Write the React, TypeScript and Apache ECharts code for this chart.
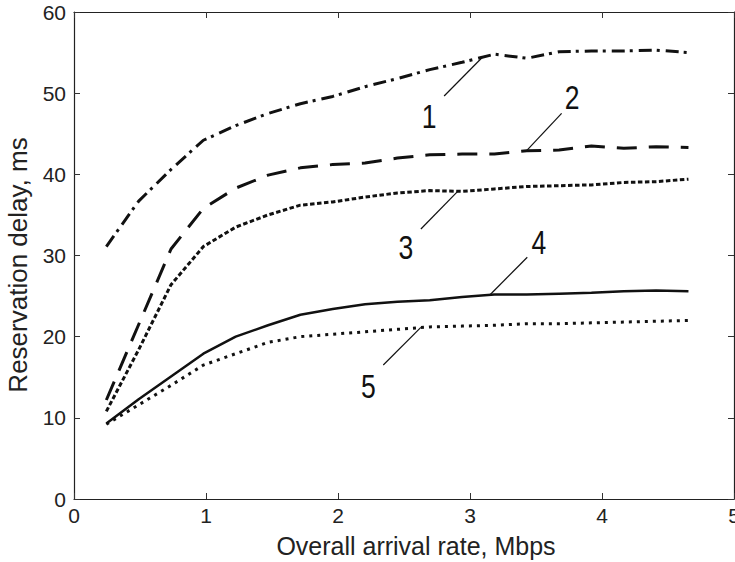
import React, { useEffect, useRef } from "react";
import * as echarts from "echarts";

// Overall arrival rate, Mbps (x positions of the samples)
const arrivalRate = [0.245, 0.49, 0.735, 0.98, 1.225, 1.47, 1.715, 1.96, 2.205, 2.45, 2.695, 2.94, 3.185, 3.43, 3.675, 3.92, 4.165, 4.41, 4.655];

// Reservation delay, ms
const curve1 = [31.1, 36.7, 40.6, 44.2, 46.0, 47.5, 48.7, 49.6, 50.8, 51.8, 52.9, 53.8, 54.8, 54.3, 55.1, 55.2, 55.2, 55.3, 55.0];
const curve2 = [12.2, 21.5, 30.8, 35.8, 38.3, 39.9, 40.8, 41.2, 41.4, 42.0, 42.4, 42.5, 42.5, 42.9, 43.0, 43.5, 43.2, 43.4, 43.3];
const curve3 = [10.8, 18.4, 26.4, 31.1, 33.5, 35.0, 36.2, 36.6, 37.2, 37.7, 38.0, 37.9, 38.2, 38.5, 38.6, 38.7, 39.0, 39.1, 39.4];
const curve4 = [9.3, 12.3, 15.1, 17.9, 20.0, 21.4, 22.7, 23.4, 24.0, 24.3, 24.5, 24.9, 25.2, 25.2, 25.3, 25.4, 25.6, 25.7, 25.6];
const curve5 = [9.2, 11.6, 14.0, 16.5, 17.9, 19.3, 20.0, 20.3, 20.6, 20.9, 21.2, 21.3, 21.4, 21.6, 21.6, 21.7, 21.8, 21.9, 22.0];

const curveNames = ["1", "2", "3", "4", "5"];

const xAxisMin = 0;
const xAxisMax = 5;
const xAxisInterval = 1;
const yAxisMin = 0;
const yAxisMax = 60;
const yAxisInterval = 10;

const xAxisTitle = "Overall arrival rate, Mbps";
const yAxisTitle = "Reservation delay, ms";

// curve callouts, in data coordinates: label centre, leader start, leader end
const labelAt = [[2.691, 47.2], [3.774, 49.6], [2.515, 31.1], [3.522, 31.7], [2.23, 14.0]];
const leaderFrom = [[2.804, 49.65], [3.694, 47.52], [2.628, 33.26], [3.434, 29.78], [2.343, 16.51]];
const leaderTo = [[3.094, 54.42], [3.422, 42.79], [2.905, 37.86], [3.15, 25.13], [2.628, 21.15]];

const FONT = "'Liberation Sans', Arial, Helvetica, sans-serif";
const INK = "#111";

const pairs = (ys: number[]) => ys.map((y, i) => [arrivalRate[i], y]);

export default function App() {
  const ref = useRef<HTMLDivElement>(null);

  useEffect(() => {
    if (!ref.current) return;
    const chart = echarts.init(ref.current, undefined, { renderer: "svg" });

    const axisLine = { show: true, onZero: false, lineStyle: { color: "#222", width: 1.2 } };
    const axisTick = { show: true, inside: true, length: 6, lineStyle: { color: "#333", width: 1 } };

    const lineSeries = (name: string, ys: number[], type: any, width: number) => ({
      name,
      type: "line",
      data: pairs(ys),
      xAxisIndex: 0,
      yAxisIndex: 0,
      showSymbol: false,
      symbol: "none",
      smooth: false,
      lineStyle: { color: INK, width, type, cap: "butt", join: "round" },
      z: 3,
    });

    chart.setOption({
      animation: false,
      backgroundColor: "#fff",
      grid: { left: 74, top: 12, right: 1, bottom: 63, containLabel: false, outerBoundsMode: "none" },
      xAxis: [
        {
          type: "value",
          position: "bottom",
          min: xAxisMin,
          max: xAxisMax,
          interval: xAxisInterval,
          axisLine,
          axisTick,
          splitLine: { show: false },
          axisLabel: { show: true, fontFamily: FONT, fontSize: 21, color: "#222", margin: 6, showMinLabel: true, showMaxLabel: true },
        },
        {
          type: "value",
          position: "top",
          min: xAxisMin,
          max: xAxisMax,
          interval: xAxisInterval,
          axisLine,
          axisTick,
          splitLine: { show: false },
          axisLabel: { show: false },
        },
      ],
      yAxis: [
        {
          type: "value",
          position: "left",
          min: yAxisMin,
          max: yAxisMax,
          interval: yAxisInterval,
          axisLine,
          axisTick,
          splitLine: { show: false },
          axisLabel: { show: true, fontFamily: FONT, fontSize: 21, color: "#222", margin: 8 },
        },
        {
          type: "value",
          position: "right",
          min: yAxisMin,
          max: yAxisMax,
          interval: yAxisInterval,
          axisLine,
          axisTick,
          splitLine: { show: false },
          axisLabel: { show: false },
        },
      ],
      series: [
        lineSeries(curveNames[0], curve1, [13, 5, 3, 6], 3),
        lineSeries(curveNames[1], curve2, [20, 12], 3),
        lineSeries(curveNames[2], curve3, [4.5, 2.5], 3),
        lineSeries(curveNames[3], curve4, "solid", 2.5),
        lineSeries(curveNames[4], curve5, [3, 5], 3),
      ],
    });

    const px = (p: number[]) => chart.convertToPixel({ gridIndex: 0 }, p) as number[];

    const graphics: any[] = [];
    curveNames.forEach((name, i) => {
      const a = px(leaderFrom[i]);
      const b = px(leaderTo[i]);
      graphics.push({
        type: "line",
        shape: { x1: a[0], y1: a[1], x2: b[0], y2: b[1] },
        style: { stroke: INK, lineWidth: 1.2 },
        z: 10,
      });
      const c = px(labelAt[i]);
      graphics.push({
        type: "text",
        x: c[0],
        y: c[1],
        scaleX: 0.78,
        style: {
          text: name,
          fontFamily: FONT,
          fontSize: 34,
          fill: INK,
          align: "center",
          verticalAlign: "middle",
        },
        z: 10,
      });
    });

    graphics.push({
      type: "text",
      x: 416,
      y: 546,
      style: {
        text: xAxisTitle,
        fontFamily: FONT,
        fontSize: 25,
        fill: "#222",
        align: "center",
        verticalAlign: "middle",
      },
    });
    graphics.push({
      type: "text",
      x: 18,
      y: 265,
      rotation: Math.PI / 2,
      style: {
        text: yAxisTitle,
        fontFamily: FONT,
        fontSize: 26,
        fill: "#222",
        align: "center",
        verticalAlign: "middle",
      },
    });

    chart.setOption({ graphic: graphics });

    return () => chart.dispose();
  }, []);

  return (
    <div
      ref={ref}
      style={{ position: "absolute", left: 0, top: 0, width: 735, height: 562, background: "#fff" }}
    />
  );
}
